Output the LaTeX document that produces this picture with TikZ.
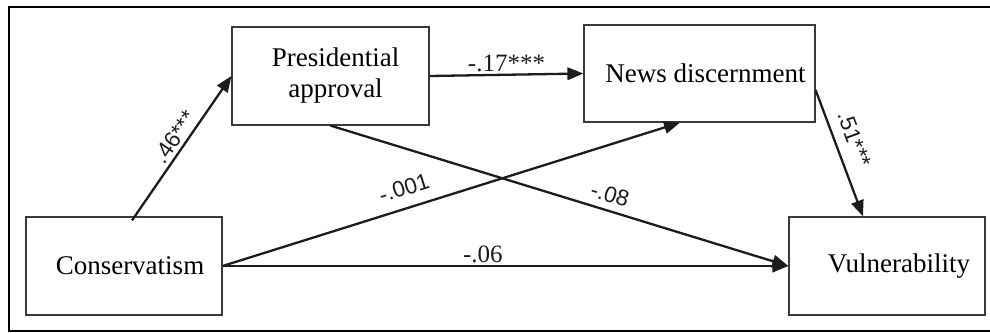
\documentclass[tikz,border=0pt]{standalone}
\usepackage{fontspec}
\setmainfont{Liberation Serif}
\newfontfamily\coefsans{Liberation Sans}
\usetikzlibrary{arrows.meta}
\definecolor{ink}{HTML}{1C1C1C}
\definecolor{boxgray}{HTML}{3A3A3A}

\begin{document}
\begin{tikzpicture}[x=1pt,y=-1pt,
  var/.style={draw=boxgray, line width=1.2pt, inner sep=0pt, align=center,
              font=\fontsize{27}{31}\selectfont},
  link/.style={draw=ink, line width=2.3pt, -{Triangle[length=16pt,width=12.5pt]}},
  coefs/.style={font=\coefsans\fontsize{22.5}{25}\selectfont, text=ink, inner sep=1pt},
  coefr/.style={font=\fontsize{25}{28}\selectfont, text=ink, inner sep=1.5pt}]

\useasboundingbox (0,0) rectangle (990,332);

% open frame (no right edge)
\draw[line width=2pt, black] (990,7) -- (9,7) -- (9,330.5) -- (990,330.5);

% variables
\node[var, minimum width=196pt, minimum height=98pt] (cons) at (124,266)
  {\hspace*{12pt}Conservatism};
\node[var, minimum width=197pt, minimum height=98pt] (pres) at (330.5,76)
  {\hspace*{10pt}Presidential\\\hspace*{10pt}approval};
\node[var, minimum width=231pt, minimum height=97pt] (news) at (699.5,73.5)
  {\hspace*{12pt}News discernment};
\node[var, minimum width=196pt, minimum height=98pt] (vuln) at (887,266)
  {\hspace*{24pt}Vulnerability};

% paths with coefficients
\draw[link] ([xshift=8pt,yshift=-4pt]cons.north) -- (pres.west)
  node[coefs, sloped, above=2pt, pos=0.53] {.46***};
\draw[link] (pres.east) -- (news.west)
  node[coefr, above=0pt, pos=0.5] {-.17***};
\draw[link] ([yshift=-16.5pt]news.east) -- ([xshift=-24pt]vuln.north)
  node[coefs, sloped, above=9pt, pos=0.44] {.51***};
\draw[link] (cons.east) -- ([xshift=-19.5pt]news.south)
  node[coefs, sloped, above=10pt, pos=0.41] {-.001};
\draw[link] (pres.south) -- (vuln.west)
  node[coefs, sloped, above=6pt, pos=0.6] {-.08};
\draw[link] (cons.east) -- (vuln.west)
  node[coefr, above=0pt, pos=0.46] {-.06};
\end{tikzpicture}
\end{document}
